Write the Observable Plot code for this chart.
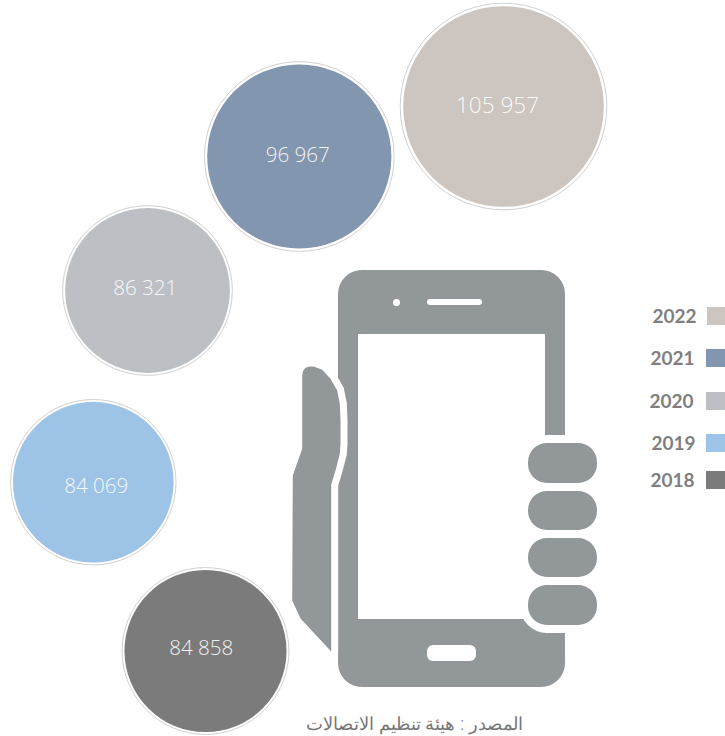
<!DOCTYPE html>
<html><head><meta charset="utf-8">
<script src="https://cdn.jsdelivr.net/npm/d3@7"></script>
<script src="https://cdn.jsdelivr.net/npm/@observablehq/plot@0.6"></script>
<style>html,body{margin:0;padding:0;background:#fff}svg{display:block}</style>
</head><body><div id="c"></div>
<script>
// data
const years = [2022, 2021, 2020, 2019, 2018];
const values = [105957, 96967, 86321, 84069, 84858];
const source = "المصدر : هيئة تنظيم الاتصالات";
// palette
const colors = ["#cdc5bf", "#8296b0", "#bcc0c4", "#9dc3e6", "#7b7b7b"];
// layout (page pixels, via identity scales)
const bubbleX = [503, 298.8, 147, 92.8, 205];
const bubbleY = [106, 156, 290, 481.7, 650.5];
const labelX = [497, 297.3, 144.7, 95.8, 200.8];
const labelY = [105.7, 154.5, 288, 485.5, 648];
const labelSize = [22.6, 20.6, 20.6, 20.6, 20.6];
const keyY = [316, 358, 401, 443, 480];
const keyX = [696, 694, 693, 695, 694];
const swatchX = [707, 706, 706, 706, 706];

const rows = years.map((year, i) => ({
  year, value: values[i], color: colors[i],
  x: bubbleX[i], y: bubbleY[i], lx: labelX[i], ly: labelY[i], ls: labelSize[i],
  ky: keyY[i], kx: keyX[i], sx: swatchX[i]
}));
const fmt = v => d3.format(",")(v).replace(",", " ");
const grey = "#929799";

// phone artwork outlines
const body = [{x1: 338, x2: 565, y1: 270, y2: 687}];
const screen = [{x1: 358, x2: 545, y1: 334, y2: 619}];
const gap = [{x1: 545, x2: 570, y1: 436, y2: 633}];
const fingers = [[443, 483], [491, 530], [538, 577], [585, 625]]
  .map(([y1, y2]) => ({x1: 528, x2: 597, y1, y2}));
const speaker = [{x1: 427, x2: 482, y1: 299, y2: 305}];
const homeBtn = [{x1: 427, x2: 476, y1: 645, y2: 661}];
const hand = [[301.7,375],[302.5,370.5],[305,367.3],[309,366],[313.3,366],[321.7,369.3],[330,378.3],[336.7,390],[339.3,403.3],[340,420],[340,443],[339.3,453.3],[335,470],[330.7,484],[330.7,651],[300,618],[291.7,600],[292.3,475],[301.7,448.3],[301.7,375]]
  .map(([x, y]) => ({x, y}));

const font = "'Open Sans', sans-serif";
const rect = {x1: "x1", x2: "x2", y1: "y1", y2: "y2"};
const chart = Plot.plot({
  width: 725, height: 736,
  margin: 0,
  x: {type: "identity", axis: null},
  y: {type: "identity", axis: null},
  r: {type: "linear", domain: [84069, 105957], range: [82.7, 103.3]},
  style: {background: "#fff", fontFamily: font},
  marks: [
    Plot.rect(body, {...rect, fill: grey, rx: 24}),
    Plot.rect(screen, {...rect, fill: "#fff"}),
    Plot.rect(gap, {...rect, fill: "#fff"}),
    Plot.rect(fingers, {...rect, fill: "#fff", stroke: "#fff", strokeWidth: 16, rx: 19}),
    Plot.rect(fingers, {...rect, fill: grey, rx: 19}),
    Plot.rect(speaker, {...rect, fill: "#fff", rx: 3}),
    Plot.rect(homeBtn, {...rect, fill: "#fff", rx: 6}),
    Plot.dot([{x: 396, y: 302}], {x: "x", y: "y", r: 3.5, fill: "#fff"}),
    Plot.line(hand, {x: "x", y: "y", stroke: "#fff", strokeWidth: 14, curve: "linear"}),
    Plot.line(hand, {x: "x", y: "y", fill: grey, stroke: "none", curve: "linear"}),

    Plot.dot(rows, {x: "x", y: "y", r: "value", fill: "#fff", stroke: "#c4c4c4", strokeWidth: 0.8}),
    Plot.dot(rows, {x: "x", y: "y", r: d => d.value * 0.97, fill: "color", stroke: "none"}),
    Plot.text(rows, {x: "lx", y: "ly", text: d => fmt(d.value), fontSize: "ls", fill: "#fff", fillOpacity: 0.92, fontWeight: 300, fontFamily: font}),

    Plot.rect(rows, {x1: "sx", x2: () => 728, y1: d => d.ky - 9, y2: d => d.ky + 9, fill: "color"}),
    Plot.text(rows, {x: "kx", y: "ky", text: d => String(d.year), textAnchor: "end", fill: "#7f7f7f", fontSize: 19, fontWeight: 700, fontFamily: "Lato, sans-serif"}),
    Plot.text([source], {x: () => 414, y: () => 724, text: d => d, fill: "#777", fontSize: 18, fontWeight: 300, fontFamily: font})
  ]
});
document.getElementById("c").appendChild(chart);
</script></body></html>
